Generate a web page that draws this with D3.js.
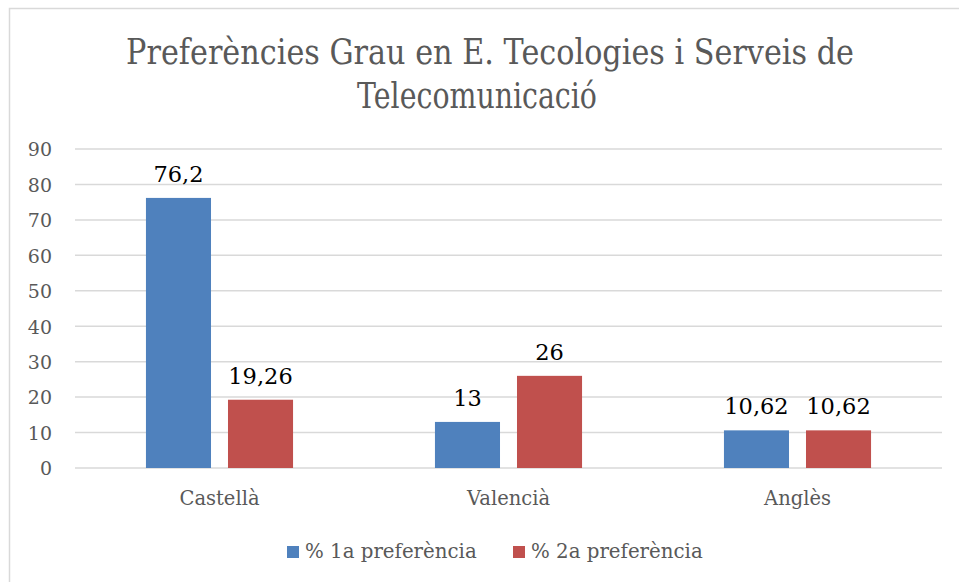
<!DOCTYPE html>
<html><head><meta charset="utf-8">
<script src="https://cdn.jsdelivr.net/npm/d3@7"></script>
<style>body{margin:0;background:#fff}svg{display:block}</style>
</head><body>
<svg id="c" width="959" height="582"></svg>
<script>
const categories = ["Castellà", "Valencià", "Anglès"];
const seriesNames = ["% 1a preferència", "% 2a preferència"];
const pref1 = [76.2, 13, 10.62];
const pref2 = [19.26, 26, 10.62];
const labels1 = ["76,2", "13", "10,62"];
const labels2 = ["19,26", "26", "10,62"];
const yTicks = [0, 10, 20, 30, 40, 50, 60, 70, 80, 90];
const titleLines = ["Preferències Grau en E. Tecologies i Serveis de", "Telecomunicació"];

const colors = ["#4F81BD", "#C0504D"];
const font = "'DejaVu Serif', serif";
const svg = d3.select("#c");

svg.append("rect").attr("x", 9.5).attr("y", 8.5).attr("width", 960).attr("height", 600)
  .attr("fill", "#fff").attr("stroke", "#D9D9D9").attr("stroke-width", 1.5);

const x0 = d3.scaleBand().domain(categories).range([75, 942]).paddingInner(0.491).paddingOuter(0.2455);
const x1 = d3.scaleBand().domain([0, 1]).range([0, x0.bandwidth()]).paddingInner(0.207);
const y = d3.scaleLinear().domain([0, 90]).range([468, 149]);

// gridlines
svg.append("g").selectAll("line").data(yTicks).join("line")
  .attr("x1", 75).attr("x2", 942)
  .attr("y1", d => y(d)).attr("y2", d => y(d))
  .attr("stroke", "#D9D9D9").attr("stroke-width", 1.5);

// y axis labels
const yAxis = d3.axisLeft(y).tickValues(yTicks).tickSize(0).tickPadding(0);
const ga = svg.append("g").attr("transform", "translate(52,0)").call(yAxis);
ga.select(".domain").remove();
ga.selectAll("text").attr("font-family", font).attr("font-size", 19).attr("fill", "#595959").attr("dy", "0.36em");

const rows = categories.map((c, i) => ({c, vals: [pref1[i], pref2[i]], labs: [labels1[i], labels2[i]]}));
const g = svg.append("g").selectAll("g").data(rows).join("g")
  .attr("transform", d => `translate(${x0(d.c)},0)`);
g.selectAll("rect").data(d => d.vals.map((v, k) => ({v, k}))).join("rect")
  .attr("x", d => x1(d.k)).attr("width", x1.bandwidth())
  .attr("y", d => y(d.v)).attr("height", d => y(0) - y(d.v))
  .attr("fill", d => colors[d.k]);
g.selectAll("text").data(d => d.vals.map((v, k) => ({v, k, l: d.labs[k]}))).join("text")
  .attr("x", d => x1(d.k) + x1.bandwidth() / 2).attr("y", d => y(d.v) - 16)
  .attr("text-anchor", "middle").attr("font-family", font).attr("font-size", 22.5).attr("fill", "#000")
  .text(d => d.l);

// x axis labels
const xAxis = d3.axisBottom(x0).tickSize(0).tickPadding(0);
const gx = svg.append("g").attr("transform", "translate(0,505)").call(xAxis);
gx.select(".domain").remove();
gx.selectAll("text").attr("font-family", font).attr("font-size", 19.5).attr("fill", "#595959").attr("dy", 0);

// title (horizontally condensed to the reference widths)
const tspec = [{x: 490, y: 64, w: 728}, {x: 477, y: 108, w: 240}];
svg.append("g").selectAll("text").data(titleLines).join("text")
  .attr("x", 0).attr("y", 0)
  .attr("text-anchor", "middle").attr("font-family", font).attr("font-size", 36).attr("fill", "#595959")
  .text(d => d)
  .each(function (d, i) {
    const w = this.getComputedTextLength();
    const sx = tspec[i].w / w;
    d3.select(this).attr("transform", `translate(${tspec[i].x},${tspec[i].y}) scale(${sx},1)`);
  });

// legend
const lx = [287, 513];
const lg = svg.append("g").selectAll("g").data(seriesNames).join("g")
  .attr("transform", (d, i) => `translate(${lx[i]},0)`);
lg.append("rect").attr("x", 0).attr("y", 546).attr("width", 12).attr("height", 12).attr("fill", (d, i) => colors[i]);
lg.append("text").attr("x", 18).attr("y", 558).attr("font-family", font).attr("font-size", 19.8).attr("fill", "#595959").text(d => d);
</script>
</body></html>
